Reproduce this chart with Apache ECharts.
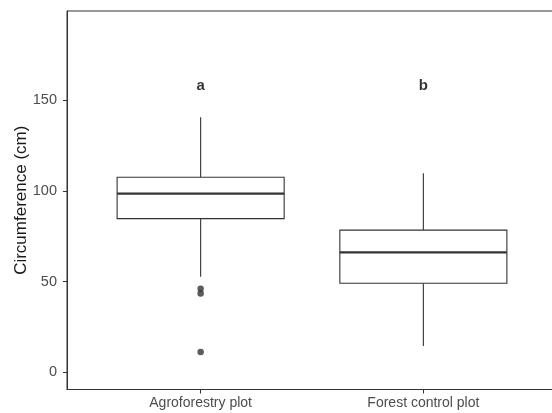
<!DOCTYPE html>
<html>
<head>
<meta charset="utf-8">
<script src="https://cdn.jsdelivr.net/npm/echarts@6/dist/echarts.min.js"></script>
<style>
html,body{margin:0;padding:0;background:#fff;}
#chart{width:552px;height:413px;}
</style>
</head>
<body>
<div id="chart"></div>
<script>
// ---- data ----
const categories = ['Agroforestry plot', 'Forest control plot'];
const catPos = [1, 2];
const whiskerLow = [52.7, 14.5];
const q1 = [84.7, 49.1];
const median = [98.5, 66.1];
const q3 = [107.5, 78.4];
const whiskerHigh = [140.6, 109.7];
const outlierCat = [1, 1, 1];
const outlierValues = [46.1, 43.5, 11.2];
const letters = ['a', 'b'];
const letterY = [158, 158];
const yTicks = [0, 50, 100, 150];

const boxData = catPos.map((c, i) => [c, whiskerLow[i], q1[i], median[i], q3[i], whiskerHigh[i]]);
const outlierData = outlierCat.map((c, i) => [c, outlierValues[i]]);
const letterData = catPos.map((c, i) => ({ value: [c, letterY[i]], name: letters[i] }));

const ink = '#333333';
const chart = echarts.init(document.getElementById('chart'), null, { renderer: 'canvas' });
chart.setOption({
  animation: false,
  backgroundColor: '#ffffff',
  grid: {
    left: 67, top: 11, width: 490, height: 378.5,
    outerBoundsMode: 'none', containLabel: false,
    show: true, borderColor: ink, borderWidth: 1, backgroundColor: 'transparent'
  },
  xAxis: {
    type: 'value', min: 0.4, max: 2.6,
    axisLine: { show: true, onZero: false, lineStyle: { color: ink, width: 1 } },
    axisTick: { show: true, length: 4, lineStyle: { color: ink }, customValues: catPos },
    axisLabel: {
      customValues: catPos, margin: 7, fontSize: 14, color: '#4d4d4d',
      fontFamily: 'Liberation Sans, Arial, sans-serif',
      formatter: v => categories[catPos.indexOf(Math.round(v))] || ''
    },
    splitLine: { show: false }
  },
  yAxis: {
    type: 'value', min: -9.5, max: 199.2,
    name: 'Circumference (cm)', nameLocation: 'middle', nameGap: 37, nameMoveOverlap: false,
    nameTextStyle: { fontSize: 17, color: '#1a1a1a', fontFamily: 'Liberation Sans, Arial, sans-serif' },
    axisLine: { show: true, onZero: false, lineStyle: { color: ink, width: 1 } },
    axisTick: { show: true, length: 4, lineStyle: { color: ink }, customValues: yTicks },
    axisLabel: { customValues: yTicks, margin: 10, fontSize: 14.5, color: '#4d4d4d', fontFamily: 'Liberation Sans, Arial, sans-serif' },
    splitLine: { show: false }
  },
  series: [
    {
      type: 'custom',
      data: boxData,
      encode: { x: 0, y: [1, 2, 3, 4, 5] },
      renderItem: function (params, api) {
        const x = api.value(0);
        const pLo = api.coord([x, api.value(1)]);
        const pQ1 = api.coord([x, api.value(2)]);
        const pMed = api.coord([x, api.value(3)]);
        const pQ3 = api.coord([x, api.value(4)]);
        const pHi = api.coord([x, api.value(5)]);
        const halfW = api.size([0.75, 0])[0] / 2;
        const cx = pQ1[0];
        const lineStyle = { stroke: ink, lineWidth: 1.1 };
        return {
          type: 'group',
          children: [
            { type: 'line', shape: { x1: cx, y1: pLo[1], x2: cx, y2: pQ1[1] }, style: lineStyle },
            { type: 'line', shape: { x1: cx, y1: pQ3[1], x2: cx, y2: pHi[1] }, style: lineStyle },
            { type: 'rect', shape: { x: cx - halfW, y: pQ3[1], width: 2 * halfW, height: pQ1[1] - pQ3[1] },
              style: { fill: '#ffffff', stroke: ink, lineWidth: 1.1 } },
            { type: 'line', shape: { x1: cx - halfW, y1: pMed[1], x2: cx + halfW, y2: pMed[1] },
              style: { stroke: ink, lineWidth: 2.4 } }
          ]
        };
      }
    },
    {
      type: 'scatter',
      data: outlierData,
      symbol: 'circle', symbolSize: 6.5,
      itemStyle: { color: ink, borderWidth: 0 }
    },
    {
      type: 'scatter',
      data: letterData,
      symbolSize: 0,
      label: {
        show: true, position: 'inside', formatter: p => p.name,
        fontSize: 15, fontWeight: 'bold', color: '#000000',
        fontFamily: 'Liberation Sans, Arial, sans-serif'
      }
    }
  ]
});
</script>
</body>
</html>
